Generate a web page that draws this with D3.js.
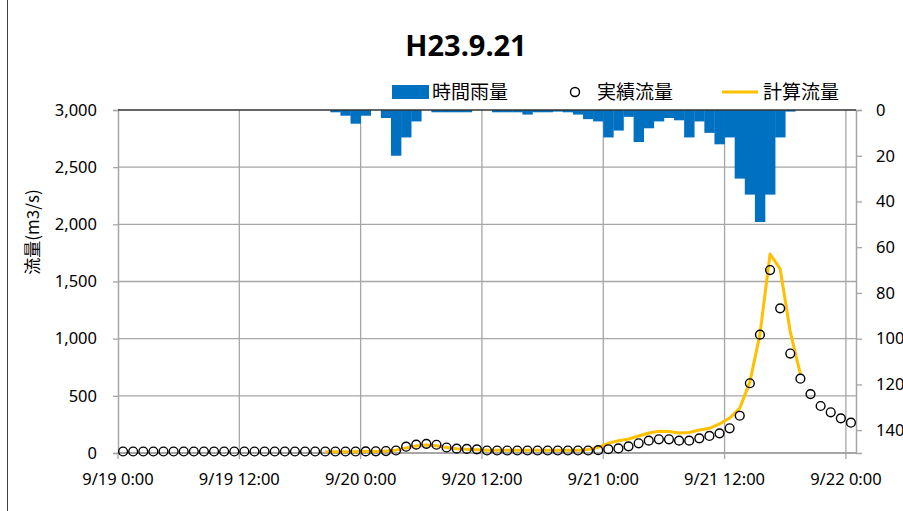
<!DOCTYPE html>
<html>
<head>
<meta charset="utf-8">
<script src="https://cdn.jsdelivr.net/npm/d3@7"></script>
<style>
  html, body { margin: 0; padding: 0; background: #fff; }
  svg { display: block; }
  text { font-family: "Noto Sans", "Noto Sans CJK JP", sans-serif; fill: #000; }
  .jp { font-family: "Noto Sans CJK JP", sans-serif; }
</style>
</head>
<body>
<svg id="chart" width="903" height="511"></svg>
<script>
// hourly categories, 9/19 0:00 .. 9/22 0:00 (73 hours)
const hours = d3.range(73);
const tickHours = [0, 12, 24, 36, 48, 60, 72];
const tickLabels = ["9/19 0:00", "9/19 12:00", "9/20 0:00", "9/20 12:00", "9/21 0:00", "9/21 12:00", "9/22 0:00"];

// 時間雨量 (mm)
const rain = [
  0, 0, 0, 0, 0, 0, 0, 0, 0, 0, 0, 0,
  0, 0, 0, 0, 0, 0, 0, 0, 0, 1, 2.5, 6,
  2.5, 0, 3.5, 20, 12, 5, 0, 1, 1, 1, 1, 0,
  0, 1, 1, 1, 2, 1, 1, 0.7, 1, 2, 4, 5,
  12, 9, 3, 14, 8, 5, 3.5, 4.5, 12, 5, 10, 15,
  12, 30, 37, 49, 37, 12, 0.7, 0, 0, 0, 0, 0,
  0
];

// 実績流量 (m3/s)
const observed = [
  13, 13, 13, 13, 13, 13, 13, 13, 13, 13, 13, 13,
  13, 13, 13, 13, 13, 13, 13, 13, 13, 13, 13, 13,
  14, 15, 17, 22, 55, 73, 80, 72, 48, 38, 36, 32,
  22, 22, 22, 22, 22, 22, 22, 22, 22, 22, 22, 25,
  33, 40, 58, 85, 108, 120, 120, 108, 108, 128, 149, 172,
  216, 326, 610, 1035, 1600, 1265, 870, 650, 515, 411, 356, 303,
  265
];

// 計算流量 (m3/s)
const computed = [
  null, null, null, null, null, null, null, null, null, null, null, null,
  null, null, null, null, null, null, null, null, 10, 10, 11, 12,
  13, 14, 17, 25, 45, 62, 70, 64, 48, 38, 33, 29,
  25, 24, 24, 24, 24, 24, 24, 24, 24, 24, 30, 50,
  85, 108, 122, 149, 175, 190, 188, 175, 179, 201, 216, 254,
  306, 390, 620, 1040, 1740, 1610, 1060, 690, null, null, null, null,
  null
];

const flowTicks = [0, 500, 1000, 1500, 2000, 2500, 3000];
const rainTicks = [0, 20, 40, 60, 80, 100, 120, 140];

const plotLeft = 118, plotRight = 856, plotTop = 110, plotBottom = 453;
const blue = "#0070C0", orange = "#FFC000", grid = "#A6A6A6";

const svg = d3.select("#chart");

const x = d3.scaleBand().domain(hours).range([plotLeft, plotRight]).padding(0);
const bw = x.bandwidth();
const y = d3.scaleLinear().domain([0, 3000]).range([plotBottom, plotTop]);
const y2 = d3.scaleLinear().domain([0, 150]).range([plotTop, plotBottom]);

// outer chart border (left edge)
svg.append("line")
  .attr("x1", 7.5).attr("x2", 7.5).attr("y1", 0).attr("y2", 511)
  .attr("stroke", "#404040").attr("stroke-width", 1);

// title
svg.append("text")
  .attr("x", 466).attr("y", 56)
  .attr("text-anchor", "middle")
  .style("font-size", "29px").style("font-weight", "bold")
  .text("H23.9.21");

// gridlines
svg.append("g").selectAll("line")
  .data(flowTicks.filter(d => d > 0 && d < 3000))
  .join("line")
  .attr("x1", plotLeft).attr("x2", plotRight)
  .attr("y1", d => y(d)).attr("y2", d => y(d))
  .attr("stroke", grid).attr("stroke-width", 1.3);

svg.append("g").selectAll("line")
  .data(tickHours.filter(d => d > 0))
  .join("line")
  .attr("x1", d => x(d)).attr("x2", d => x(d))
  .attr("y1", plotTop).attr("y2", plotBottom)
  .attr("stroke", grid).attr("stroke-width", 1.3);

// rain bars hanging from the top
svg.append("g").selectAll("rect")
  .data(hours.filter(i => rain[i] > 0))
  .join("rect")
  .attr("x", i => x(i))
  .attr("y", plotTop)
  .attr("width", bw + 0.3)
  .attr("height", i => y2(rain[i]) - plotTop)
  .attr("fill", blue);

// left axis
const yAxis = svg.append("g")
  .attr("transform", `translate(${plotLeft},0)`)
  .call(d3.axisLeft(y).tickValues(flowTicks).tickSize(5).tickPadding(16)
    .tickFormat(d3.format(",")));
yAxis.select(".domain").attr("stroke", grid).attr("stroke-width", 1.5);
yAxis.selectAll(".tick line").attr("stroke", grid).attr("stroke-width", 1.3);
yAxis.selectAll("text").style("font-size", "16.5px").attr("fill", "#000");

// right axis (reversed, rain)
const y2Axis = svg.append("g")
  .attr("transform", `translate(${plotRight},0)`)
  .call(d3.axisRight(y2).tickValues(rainTicks).tickSize(6).tickPadding(14));
y2Axis.select(".domain").attr("stroke", grid).attr("stroke-width", 1.5);
y2Axis.selectAll(".tick line").attr("stroke", grid).attr("stroke-width", 1.3);
y2Axis.selectAll("text").style("font-size", "16.5px").attr("fill", "#000");

// bottom axis
const xAxis = svg.append("g")
  .attr("transform", `translate(0,${plotBottom})`);
xAxis.append("line")
  .attr("x1", plotLeft).attr("x2", plotRight)
  .attr("stroke", grid).attr("stroke-width", 2);
xAxis.selectAll("line.tk")
  .data(tickHours)
  .join("line")
  .attr("class", "tk")
  .attr("x1", d => x(d)).attr("x2", d => x(d))
  .attr("y1", 0).attr("y2", 6)
  .attr("stroke", grid).attr("stroke-width", 1.3);
xAxis.selectAll("text")
  .data(tickHours)
  .join("text")
  .attr("x", d => x(d))
  .attr("y", 32)
  .attr("text-anchor", "middle")
  .style("font-size", "16.5px")
  .text((d, i) => tickLabels[i]);

// top line (secondary category axis crossing at 0 mm)
svg.append("line")
  .attr("x1", plotLeft).attr("x2", plotRight)
  .attr("y1", plotTop).attr("y2", plotTop)
  .attr("stroke", "#333").attr("stroke-width", 1.3);

// y axis title
svg.append("text")
  .attr("class", "jp")
  .attr("transform", "translate(39,232) rotate(-90)")
  .attr("text-anchor", "middle")
  .style("font-size", "17px")
  .text("流量(m3/s)");

// computed line
const line = d3.line()
  .defined(i => computed[i] != null)
  .x(i => x(i) + bw / 2)
  .y(i => y(computed[i]));

svg.append("path")
  .datum(hours)
  .attr("d", line)
  .attr("fill", "none")
  .attr("stroke", orange)
  .attr("stroke-width", 3)
  .attr("stroke-linejoin", "round");

// observed circles
svg.append("g").selectAll("circle")
  .data(hours)
  .join("circle")
  .attr("cx", i => x(i) + bw / 2)
  .attr("cy", i => y(observed[i]))
  .attr("r", 4.4)
  .attr("fill", "none")
  .attr("stroke", "#000")
  .attr("stroke-width", 1.4);

// legend
const lg = svg.append("g");
lg.append("rect")
  .attr("x", 392).attr("y", 85).attr("width", 37).attr("height", 14)
  .attr("fill", blue);
lg.append("text").attr("class", "jp")
  .attr("x", 432).attr("y", 99).style("font-size", "19px").text("時間雨量");
lg.append("circle")
  .attr("cx", 575).attr("cy", 92).attr("r", 4.5)
  .attr("fill", "#fff").attr("stroke", "#000").attr("stroke-width", 1.4);
lg.append("text").attr("class", "jp")
  .attr("x", 597).attr("y", 99).style("font-size", "19px").text("実績流量");
lg.append("line")
  .attr("x1", 722).attr("x2", 758).attr("y1", 92).attr("y2", 92)
  .attr("stroke", orange).attr("stroke-width", 3);
lg.append("text").attr("class", "jp")
  .attr("x", 763).attr("y", 99).style("font-size", "19px").text("計算流量");
</script>
</body>
</html>
